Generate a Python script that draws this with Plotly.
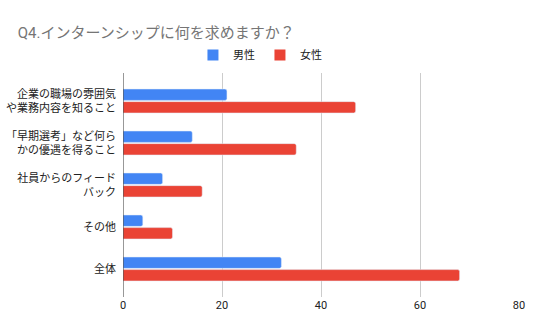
import plotly.graph_objects as go

categories = ["企業の職場の雰囲気<br>や業務内容を知ること",
              "「早期選考」など何ら<br>かの優遇を得ること",
              "社員からのフィード<br>バック",
              "その他",
              "全体"]
male = [21, 14, 8, 4, 32]
female = [47, 35, 16, 10, 68]
x_ticks = [0, 20, 40, 60, 80]
series_names = ["男性", "女性"]
series_colors = ["#4285F4", "#EA4335"]

FONT = "Roboto, 'Noto Sans CJK JP', sans-serif"

fig = go.Figure()
for vals, name, col in zip([male, female], series_names, series_colors):
    fig.add_trace(go.Bar(y=categories, x=vals, name=name, orientation="h",
                         marker=dict(color=col, cornerradius=2), showlegend=False))
for name, col in zip(series_names, series_colors):
    fig.add_trace(go.Scatter(x=[None], y=[None], mode="markers", name=name,
                             marker=dict(symbol="square", size=11, color=col),
                             showlegend=True))

fig.update_layout(
    width=536, height=331,
    margin=dict(l=123, r=17, t=73, b=34),
    paper_bgcolor="white", plot_bgcolor="white",
    font=dict(family=FONT, size=11, color="#222222"),
    title=dict(text="Q4.インターンシップに何を求めますか？", x=0.033, xanchor="left",
               y=0.9, yanchor="middle",
               font=dict(size=15, color="#757575", family=FONT)),
    legend=dict(orientation="h", xref="container", x=0.485, xanchor="center",
                yref="container", y=1 - 55/331, yanchor="middle",
                font=dict(size=11, color="#222222"), traceorder="normal",
                itemwidth=30),
    barmode="group", bargap=0.4, bargroupgap=0.1,
    showlegend=True,
)
fig.update_xaxes(range=[0, 80], tickvals=x_ticks, showgrid=True, gridcolor="#cccccc",
                 gridwidth=1, zeroline=False, showline=False, ticks="", automargin=False,
                 tickfont=dict(size=11, color="#222222"))
fig.update_yaxes(type="category", range=[4.667, -0.667], showgrid=False, showline=False,
                 ticks="", ticklabelstandoff=6, automargin=False,
                 tickfont=dict(size=11, color="#222222"))
fig.add_shape(type="line", xref="x", yref="paper", x0=0, x1=0, y0=0, y1=1,
              line=dict(color="#333333", width=1))

fig.write_html("out.html")
